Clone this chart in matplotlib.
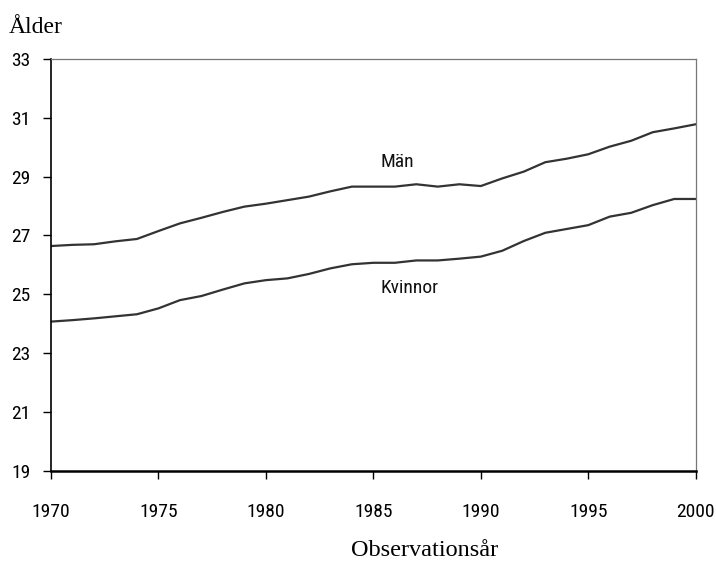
import matplotlib
matplotlib.use("Agg")
import matplotlib.pyplot as plt
from matplotlib import font_manager as fm

years = list(range(1970, 2001))
man = [26.64, 26.68, 26.70, 26.80, 26.88, 27.15, 27.41, 27.60, 27.80, 27.98,
       28.08, 28.20, 28.32, 28.50, 28.66, 28.66, 28.66, 28.74, 28.66, 28.74,
       28.68, 28.94, 29.17, 29.49, 29.61, 29.76, 30.02, 30.22, 30.51, 30.64,
       30.78]
kvinnor = [24.07, 24.12, 24.18, 24.25, 24.32, 24.52, 24.80, 24.94, 25.16, 25.37,
           25.48, 25.54, 25.69, 25.88, 26.02, 26.07, 26.07, 26.15, 26.15, 26.21,
           26.28, 26.48, 26.81, 27.09, 27.22, 27.35, 27.64, 27.77, 28.03, 28.24,
           28.24]
xticks = [1970, 1975, 1980, 1985, 1990, 1995, 2000]
yticks = [19, 21, 23, 25, 27, 29, 31, 33]

names = {f.name for f in fm.fontManager.ttflist}
narrow = None
for cand in ["Liberation Sans Narrow", "Arial Narrow", "Roboto Condensed",
             "Open Sans Condensed", "DejaVu Sans Condensed"]:
    if cand in names:
        narrow = cand
        break
if narrow is not None:
    sans = dict(family=narrow, fontsize=14)
else:
    sans = dict(family="Liberation Sans", fontsize=14)
serif = "Liberation Serif"

fig = plt.figure(figsize=(7.16, 5.63), dpi=100)
ax = fig.add_axes([51/716, 1-470.7/563, (695.7-51)/716, (470.7-59)/563])

ax.plot(years, man, color="#333333", lw=1.6)
ax.plot(years, kvinnor, color="#333333", lw=1.6)

ax.set_xlim(1970, 2000)
ax.set_ylim(19, 33)
ax.set_xticks(xticks)
ax.set_yticks(yticks)
ax.set_xticklabels([str(t) for t in xticks], **sans)
ax.set_yticklabels([str(t) for t in yticks], **sans)
ax.tick_params(axis="x", direction="out", length=5.5, width=1.0, pad=17.5, color="black")
ax.tick_params(axis="y", direction="out", length=5.5, width=1.0, pad=9, color="black")

ax.spines["left"].set_color("black")
ax.spines["left"].set_linewidth(1.2)
ax.spines["bottom"].set_color("black")
ax.spines["bottom"].set_linewidth(1.8)
for s in ("top", "right"):
    ax.spines[s].set_color("#777777")
    ax.spines[s].set_linewidth(0.9)

ax.text(1985.31, 29.33, "Män", ha="left", va="baseline", color="#111111", **sans)
ax.text(1985.31, 25.04, "Kvinnor", ha="left", va="baseline", color="#111111", **sans)

fig.text(9/716, 1-33/563, "Ålder", family=serif, fontsize=17, ha="left", va="baseline")
fig.text(425/716, 1-550/563, "Observationsår", family=serif, fontsize=17.5, ha="center", va="center")

fig.savefig("out.png", dpi=100)
